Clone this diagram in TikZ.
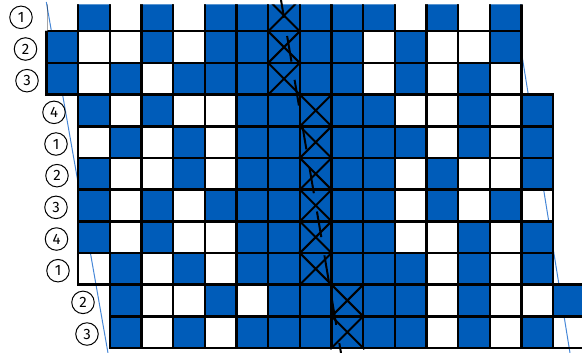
\documentclass[tikz,border=0pt]{standalone}
\usepackage{fontspec}
\setsansfont{Fira Sans}
\definecolor{blue1}{RGB}{0,92,185}
\definecolor{blue2}{RGB}{70,135,215}

\begin{document}
\begin{tikzpicture}[x=1pt, y=-1pt,
    cellblue/.style={draw=black, fill=blue1, line width=2.4pt, minimum size=31.67pt, inner sep=0pt, shape=rectangle},
    cellwhite/.style={draw=black, line width=2.4pt, minimum size=31.67pt, inner sep=0pt, shape=rectangle},
    rowlabel/.style={draw=black, shape=circle, line width=1pt, minimum size=22.5pt, inner sep=0pt, font=\sffamily\fontsize{15}{15}\selectfont},
    edgeline/.style={draw=blue2, line width=1pt},
    crossline/.style={draw=black, line width=2pt},
    thread/.style={draw=black, line width=2pt, dash pattern=on 26pt off 18.5pt, dash phase=8pt}
]
        \useasboundingbox (0,0) rectangle (582,353);

        % slanted edges of the piece
        \coordinate (leftedgetop) at (46.3,2);
        \coordinate (leftedgebot) at (108,353);
        \coordinate (rightedgetop) at (514,6);
        \coordinate (rightedgebot) at (570,353);
        \draw[edgeline] (leftedgetop) -- (leftedgebot);
        \draw[edgeline] (rightedgetop) -- (rightedgebot);

        % rows: row / shift / colours (1 = blue)
        \begin{scope}
        \clip (47.7,4.5) rectangle (600,360) (0,31) rectangle (600,360);
        \foreach \r/\k/\pat in {
            1/0/{0,1,0,1,0,1,1,1,1,1,1,0,1,0,1},
            2/0/{1,0,0,1,0,1,1,1,1,1,0,1,0,0,1},
            3/0/{1,0,1,0,1,1,1,1,1,1,0,1,0,1,0},
            4/1/{1,0,1,0,0,1,1,1,1,1,0,0,1,0,1},
            5/1/{0,1,0,1,0,1,1,1,1,1,1,0,1,0,1},
            6/1/{1,0,0,1,0,1,1,1,1,1,0,1,0,0,1},
            7/1/{1,0,1,0,1,1,1,1,1,1,0,1,0,1,0},
            8/1/{1,0,1,0,0,1,1,1,1,1,0,0,1,0,1},
            9/1/{0,1,0,1,0,1,1,1,1,1,1,0,1,0,1},
            10/2/{1,0,0,1,0,1,1,1,1,1,0,1,0,0,1},
            11/2/{1,0,1,0,1,1,1,1,1,1,0,1,0,1,0}}{
            \foreach \v [count=\i from 0] in \pat {
                \ifnum\v=1
                    \node[cellblue, name=c\r-\i] at ({46.5+(\k+\i+0.5)*31.67}, {47.13+(\r-2)*31.67}) {};
                \else
                    \node[cellwhite, name=c\r-\i] at ({46.5+(\k+\i+0.5)*31.67}, {47.13+(\r-2)*31.67}) {};
                \fi
            }
            \draw[crossline] (c\r-7.north west) -- (c\r-7.south east)
                             (c\r-7.north east) -- (c\r-7.south west);
        }
        \end{scope}

        % row numbers
        \foreach \r/\n/\lx in {1/1/21, 2/2/25.5, 3/3/27, 4/4/54, 5/1/56, 6/2/57,
                               7/3/56, 8/4/56.5, 9/1/58, 10/2/83, 11/3/87}{
            \node[rowlabel, name=lab\r] at (\lx, {49+(\r-2)*31.67}) {\n};
        }

        % thread through the crossed column
        \coordinate (threadtop) at (281,0);
        \coordinate (threadbot) at (341,353);
        \draw[thread] (threadtop) -- (threadbot);
\end{tikzpicture}
\end{document}
